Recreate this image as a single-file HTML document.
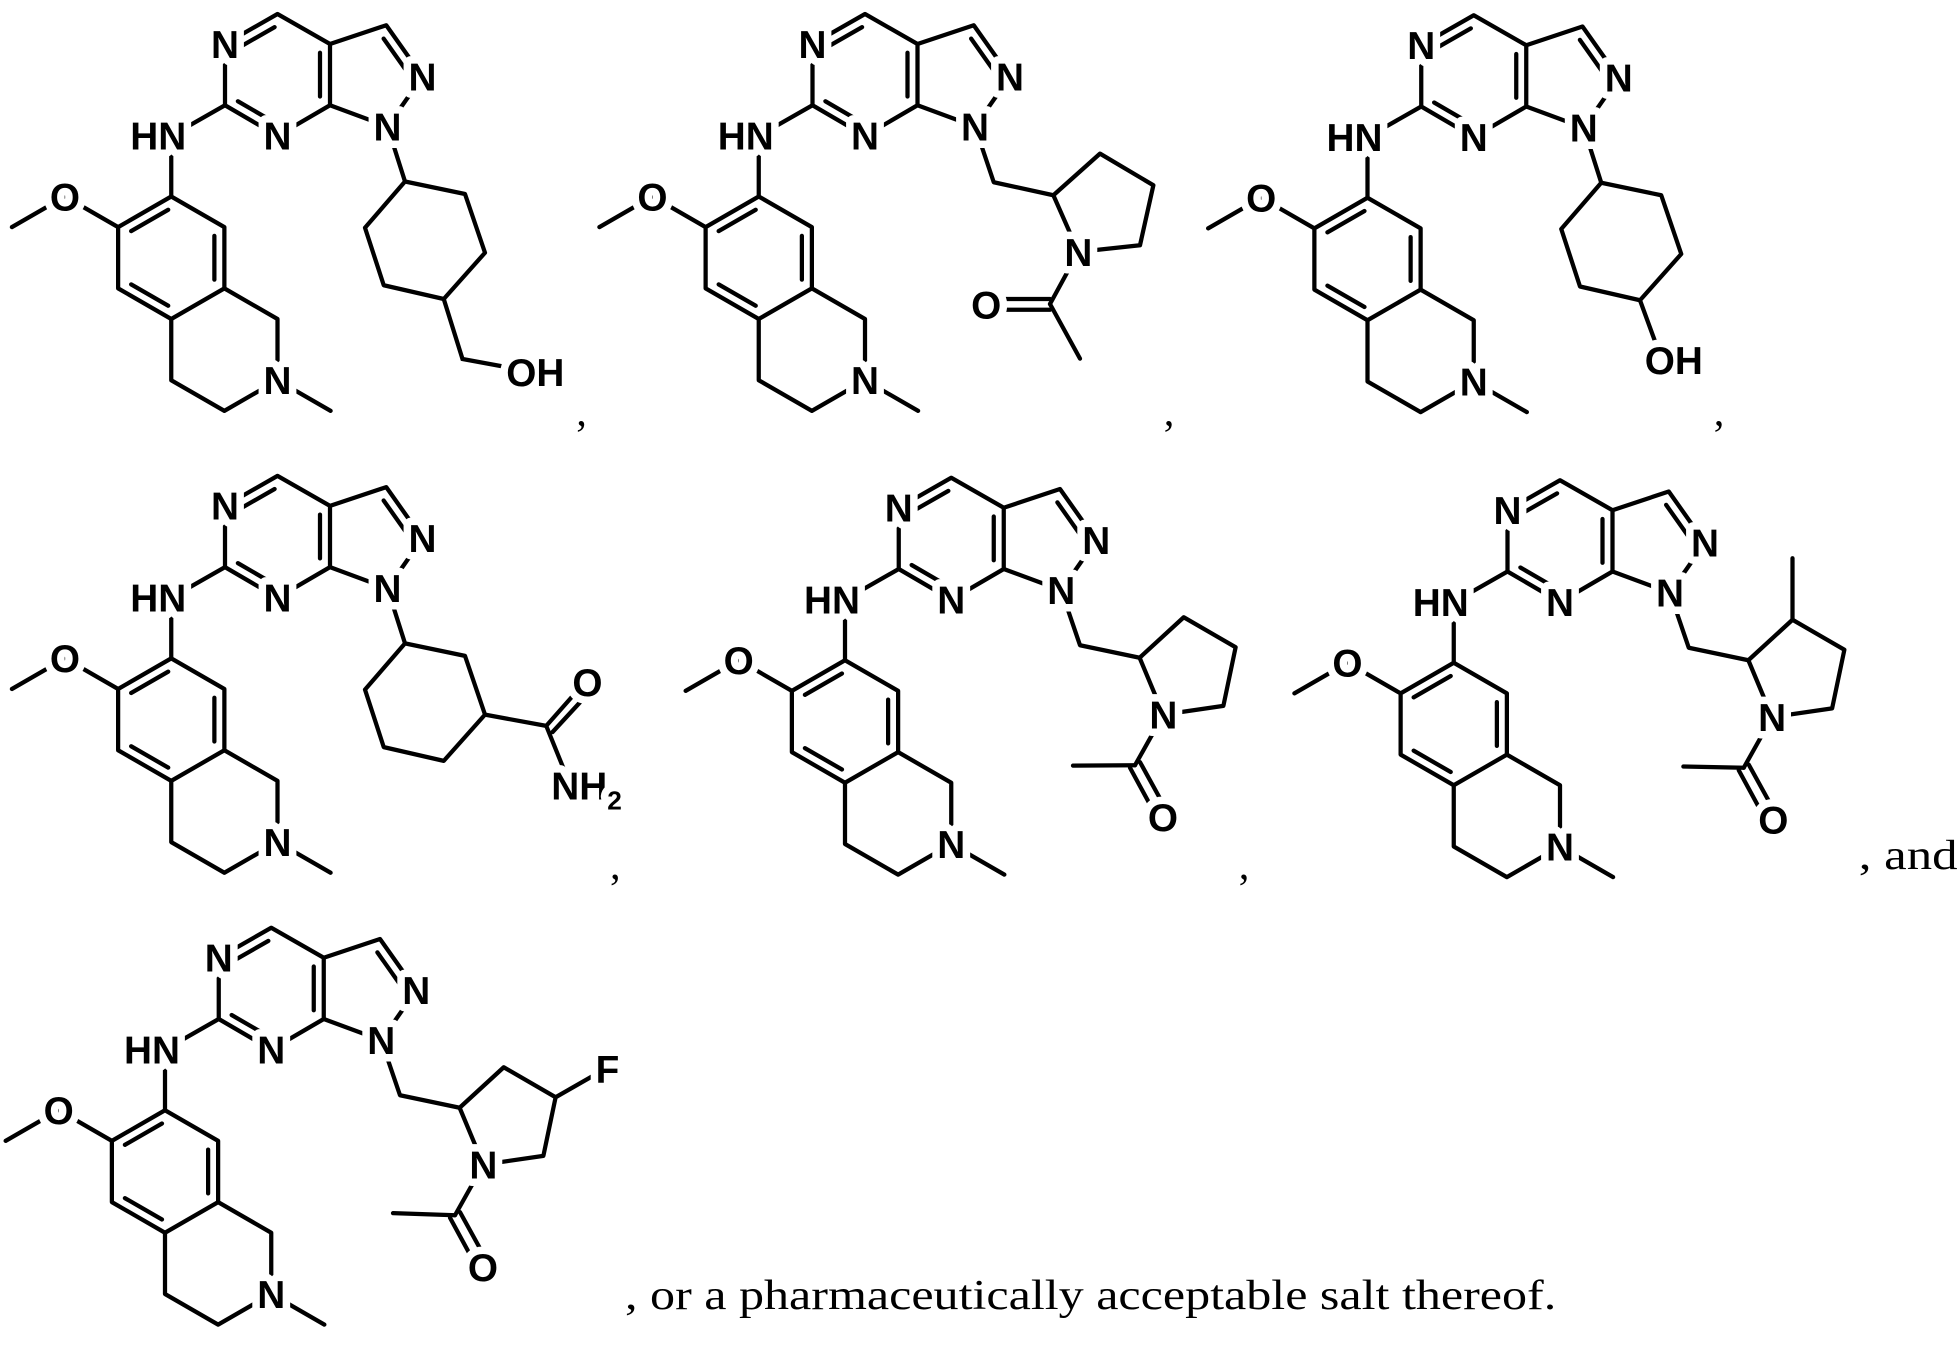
<!DOCTYPE html>
<html><head><meta charset="utf-8"><style>
html,body{margin:0;padding:0;background:#fff;}
svg{display:block;}
.l{fill:#000;font-family:"Liberation Sans",Arial,sans-serif;font-weight:bold;font-size:31px;text-anchor:middle;stroke:#fff;stroke-width:12px;paint-order:stroke;stroke-linejoin:round;}
.s{font-family:"Liberation Serif","Times New Roman",serif;font-size:34px;fill:#000;}
</style></head><body>
<svg width="1960" height="1348" viewBox="0 0 1568 1078" xmlns="http://www.w3.org/2000/svg">
<defs>
<g id="core" stroke="#000" stroke-width="3.4" stroke-linecap="round" stroke-linejoin="round" fill="none">
<polygon points="180,84 180,35 222,11 264,35 264,84 222,108.5"/>
<polyline points="264,35 309,20 338,61 310,101 264,84"/>
<line x1="180" y1="84" x2="137" y2="108.5"/>
<line x1="137" y1="108.5" x2="137" y2="157"/>
<polygon points="137,157 179.5,181.5 179.5,230.5 137,255 94.5,230.5 94.5,181.5"/>
<polyline points="9.5,181.5 52,157 94.5,181.5"/>
<polyline points="179.5,230.5 222,255 222,304 179.5,328.5 137,304 137,255"/>
<line x1="222" y1="304" x2="264.5" y2="328.5"/>
<line x1="190.3" y1="38.3" x2="219.7" y2="21.5"/>
<line x1="190.3" y1="80.8" x2="219.7" y2="97.9"/>
<line x1="256" y1="42" x2="256" y2="77"/>
<line x1="306.9" y1="30.7" x2="327.2" y2="59.4"/>
<line x1="134.6" y1="167.6" x2="104.9" y2="184.7"/>
<line x1="171.5" y1="188.5" x2="171.5" y2="223.5"/>
<line x1="104.9" y1="227.3" x2="134.6" y2="244.4"/>
</g>
<g id="hex" stroke="#000" stroke-width="3.4" stroke-linecap="round" stroke-linejoin="round" fill="none">
<line x1="310" y1="101" x2="324" y2="145"/>
<polygon points="324,145 372,155 388,202 355,239 307,228 292,182"/>
</g>
<g id="pyr" stroke="#000" stroke-width="3.4" stroke-linecap="round" stroke-linejoin="round" fill="none">
<polyline points="310,101 325,145 372.7,155"/>
<polygon points="372.7,155 408,122.6 449.5,146.6 439.7,193.5 391.7,200.5"/>
<line x1="391.7" y1="200.5" x2="369" y2="241"/>
</g>
</defs>

<!-- Molecule 1 -->
<g transform="translate(0,0)">
<use href="#core"/><use href="#hex"/>
<g stroke="#000" stroke-width="3.4" stroke-linecap="round" fill="none"><polyline points="355,239 370,287 408,294"/></g>
<text class="l" x="180" y="46">N</text><text class="l" x="222" y="119.5">N</text><text class="l" x="338" y="72">N</text><text class="l" x="310" y="112">N</text>
<text class="l" x="149" y="119.5" style="text-anchor:end">HN</text><text class="l" x="52" y="168">O</text><text class="l" x="222" y="315">N</text>
<text class="l" x="405" y="308.5" style="text-anchor:start">OH</text>
</g>

<!-- Molecule 2 -->
<g transform="translate(470,0)">
<use href="#core"/>
<g stroke="#000" stroke-width="3.4" stroke-linecap="round" stroke-linejoin="round" fill="none">
<polyline points="310,101 325,145.6 372.7,156"/>
<polygon points="372.7,156 410,122.7 452.7,148 442,196 392.7,201.3"/>
<line x1="392.7" y1="201.3" x2="370" y2="243"/>
<line x1="370" y1="243" x2="394" y2="286.7"/>
<line x1="370" y1="239" x2="330" y2="239"/>
<line x1="370" y1="247.6" x2="330" y2="247.6"/>
</g>
<text class="l" x="180" y="46">N</text><text class="l" x="222" y="119.5">N</text><text class="l" x="338" y="72">N</text><text class="l" x="310" y="112">N</text>
<text class="l" x="149" y="119.5" style="text-anchor:end">HN</text><text class="l" x="52" y="168">O</text><text class="l" x="222" y="315">N</text>
<text class="l" x="392.7" y="212.5">N</text><text class="l" x="319" y="254.5">O</text>
</g>

<!-- Molecule 3 -->
<g transform="translate(957,1)">
<use href="#core"/><use href="#hex"/>
<g stroke="#000" stroke-width="3.4" stroke-linecap="round" fill="none"><line x1="355" y1="239" x2="370" y2="280"/></g>
<text class="l" x="180" y="46">N</text><text class="l" x="222" y="119.5">N</text><text class="l" x="338" y="72">N</text><text class="l" x="310" y="112">N</text>
<text class="l" x="149" y="119.5" style="text-anchor:end">HN</text><text class="l" x="52" y="168">O</text><text class="l" x="222" y="315">N</text>
<text class="l" x="382" y="298">OH</text>
</g>

<!-- Molecule 4 -->
<g transform="translate(0,369.5)">
<use href="#core"/><use href="#hex"/>
<g stroke="#000" stroke-width="3.4" stroke-linecap="round" fill="none">
<line x1="388" y1="202" x2="437" y2="211"/>
<line x1="437" y1="211" x2="460" y2="185"/>
<line x1="442" y1="216" x2="466" y2="190"/>
<line x1="437" y1="211" x2="452" y2="248"/>
</g>
<text class="l" x="180" y="46">N</text><text class="l" x="222" y="119.5">N</text><text class="l" x="338" y="72">N</text><text class="l" x="310" y="112">N</text>
<text class="l" x="149" y="119.5" style="text-anchor:end">HN</text><text class="l" x="52" y="168">O</text><text class="l" x="222" y="315">N</text>
<text class="l" x="470" y="187">O</text>
<text class="l" x="441" y="270" style="text-anchor:start">NH<tspan font-size="21" dy="8">2</tspan></text>
</g>

<!-- Molecule 5 -->
<g transform="translate(539,371)">
<use href="#core"/><use href="#pyr"/>
<g stroke="#000" stroke-width="3.4" stroke-linecap="round" fill="none">
<line x1="369" y1="241" x2="319.4" y2="241.3"/>
<line x1="365" y1="243" x2="384" y2="278"/>
<line x1="373" y1="238.5" x2="392" y2="273"/>
</g>
<text class="l" x="180" y="46">N</text><text class="l" x="222" y="119.5">N</text><text class="l" x="338" y="72">N</text><text class="l" x="310" y="112">N</text>
<text class="l" x="149" y="119.5" style="text-anchor:end">HN</text><text class="l" x="52" y="168">O</text><text class="l" x="222" y="315">N</text>
<text class="l" x="391.7" y="211.5">N</text><text class="l" x="391.4" y="293.5">O</text>
</g>

<!-- Molecule 6 -->
<g transform="translate(1026,373)">
<use href="#core"/><use href="#pyr"/>
<g stroke="#000" stroke-width="3.4" stroke-linecap="round" fill="none">
<line x1="408" y1="122.6" x2="408" y2="73.4"/>
<line x1="369" y1="241" x2="320.7" y2="240"/>
<line x1="365" y1="243" x2="384" y2="278"/>
<line x1="373" y1="238.5" x2="392" y2="273"/>
</g>
<text class="l" x="180" y="46">N</text><text class="l" x="222" y="119.5">N</text><text class="l" x="338" y="72">N</text><text class="l" x="310" y="112">N</text>
<text class="l" x="149" y="119.5" style="text-anchor:end">HN</text><text class="l" x="52" y="168">O</text><text class="l" x="222" y="315">N</text>
<text class="l" x="391.7" y="211.5">N</text><text class="l" x="392.7" y="293.5">O</text>
</g>

<!-- Molecule 7 -->
<g transform="translate(-5,731)">
<use href="#core"/><use href="#pyr"/>
<g stroke="#000" stroke-width="3.4" stroke-linecap="round" fill="none">
<line x1="449.5" y1="146.6" x2="482" y2="128"/>
<line x1="369" y1="241" x2="319.4" y2="239.3"/>
<line x1="365" y1="243" x2="384" y2="278"/>
<line x1="373" y1="238.5" x2="392" y2="273"/>
</g>
<text class="l" x="180" y="46">N</text><text class="l" x="222" y="119.5">N</text><text class="l" x="338" y="72">N</text><text class="l" x="310" y="112">N</text>
<text class="l" x="149" y="119.5" style="text-anchor:end">HN</text><text class="l" x="52" y="168">O</text><text class="l" x="222" y="315">N</text>
<text class="l" x="391.7" y="211.5">N</text><text class="l" x="391.4" y="293.5">O</text>
<text class="l" x="491" y="135">F</text>
</g>

<text class="s" x="461" y="340">,</text>
<text class="s" x="931" y="340">,</text>
<text class="s" x="1371" y="340">,</text>
<text class="s" x="488" y="703">,</text>
<text class="s" x="991" y="703">,</text>
<text class="s" x="1487" y="695" textLength="79" lengthAdjust="spacingAndGlyphs">, and</text>
<text class="s" x="500" y="1047" textLength="745" lengthAdjust="spacingAndGlyphs">, or a pharmaceutically acceptable salt thereof.</text>
</svg>
</body></html>
